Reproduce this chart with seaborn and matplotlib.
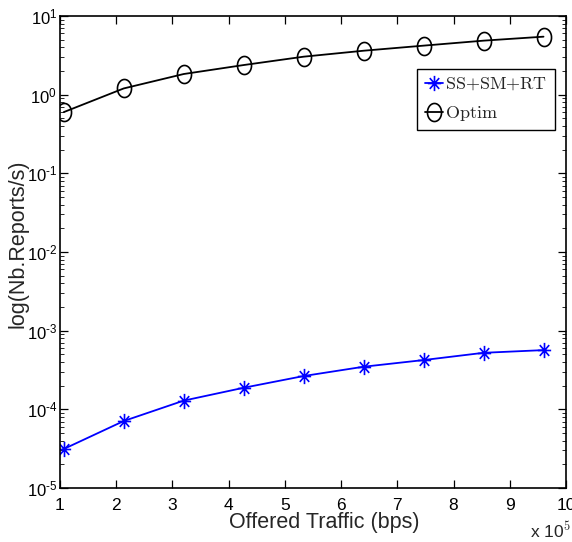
import numpy as np
import pandas as pd
import matplotlib
matplotlib.use("Agg")
import matplotlib.pyplot as plt
import seaborn as sns
from matplotlib.path import Path
from matplotlib.ticker import LogLocator, FixedLocator, NullFormatter, FuncFormatter

# ---- data (x in units of 10^5 bps) ----
traffic = [1.0667, 2.1333, 3.2, 4.2667, 5.3333, 6.4, 7.4667, 8.5333, 9.6]
ss_sm_rt = [3.13e-5, 7.1e-5, 1.29e-4, 1.88e-4, 2.65e-4, 3.48e-4, 4.23e-4, 5.23e-4, 5.66e-4]
optim = [0.60, 1.20, 1.83, 2.38, 3.04, 3.62, 4.20, 4.86, 5.46]
series_names = ["SS+SM+RT", "Optim"]
x_ticks = [1, 2, 3, 4, 5, 6, 7, 8, 9, 10]

sns.set_style("ticks")
plt.rcParams["font.family"] = ["Liberation Sans", "DejaVu Sans"]
plt.rcParams["mathtext.fontset"] = "cm"
plt.rcParams["xtick.direction"] = "in"
plt.rcParams["ytick.direction"] = "in"

# slightly tall marker shapes (MATLAB-like, vertically stretched)
t = np.linspace(0, 2 * np.pi, 65)
ellipse = Path(np.column_stack([0.78 * np.cos(t), np.sin(t)]))
ang = np.arange(4) * np.pi / 4
av = []
ac = []
for a in ang:
    dx, dy = 0.87 * np.cos(a), np.sin(a)
    av += [(-dx, -dy), (dx, dy)]
    ac += [Path.MOVETO, Path.LINETO]
asterisk = Path(np.array(av), ac)

fig = plt.figure(figsize=(5.72, 5.42), dpi=100)
ax = fig.add_axes([60 / 572, 1 - 488 / 542, 506 / 572, 472 / 542])

df1 = pd.DataFrame({"x": traffic, "y": ss_sm_rt})
df2 = pd.DataFrame({"x": traffic, "y": optim})

sns.lineplot(data=df1, x="x", y="y", ax=ax, color=(0, 0, 1), linewidth=1.3,
             marker=asterisk, markersize=11, markeredgewidth=1.2,
             markeredgecolor=(0, 0, 1), markerfacecolor="none",
             label=r"$\mathrm{SS{+}SM{+}RT}$")
sns.lineplot(data=df2, x="x", y="y", ax=ax, color="black", linewidth=1.3,
             marker=ellipse, markersize=13, markerfacecolor="none",
             markeredgewidth=1.2, markeredgecolor="black",
             label=r"$\mathrm{Optim}$")

ax.set_yscale("log")
ax.set_xlim(1, 10)
ax.set_ylim(1e-5, 1e1)
ax.xaxis.set_major_locator(FixedLocator(x_ticks))
ax.set_xticklabels([str(v) for v in x_ticks])
ax.yaxis.set_major_locator(LogLocator(base=10, numticks=10))
ax.yaxis.set_minor_locator(LogLocator(base=10, subs=np.arange(2, 10), numticks=100))
ax.yaxis.set_minor_formatter(NullFormatter())


def log_label(v, pos):
    e = int(round(np.log10(v)))
    es = str(e).replace("-", "\u2010")
    return r"$\mathdefault{10^{%s}}$" % es


ax.yaxis.set_major_formatter(FuncFormatter(log_label))

ax.tick_params(axis="both", which="major", direction="in", length=6, width=0.9,
               top=True, right=True, colors="black")
ax.tick_params(axis="x", which="major", pad=7, labelsize=12.5)
ax.tick_params(axis="y", which="major", pad=2, labelsize=12)
ax.tick_params(axis="y", which="minor", direction="in", length=3, width=0.7,
               left=True, right=True)
for s in ax.spines.values():
    s.set_visible(True)
    s.set_linewidth(1.2)
    s.set_color("black")

ax.set_xlabel("Offered Traffic (bps)", fontsize=15.5)
ax.xaxis.set_label_coords((324 - 60) / 506, (488 - 512) / 472)
ax.set_ylabel("log(Nb.Reports/s)", fontsize=15.5)
ax.yaxis.set_label_coords((28 - 60) / 506, (488 - 244) / 472)

fig.text(530 / 572, 1 / 542, r"x 10$^{5}$", fontsize=12.5, ha="left", va="bottom")

leg = ax.legend(loc="upper right", bbox_to_anchor=(0.978, 0.888), fontsize=13,
                frameon=True, fancybox=False, framealpha=1, edgecolor="black",
                handlelength=1.0, handletextpad=0.15, borderpad=0.4,
                labelspacing=0.6, borderaxespad=0)
leg.get_frame().set_linewidth(1.0)

fig.savefig("out.png", dpi=100)
